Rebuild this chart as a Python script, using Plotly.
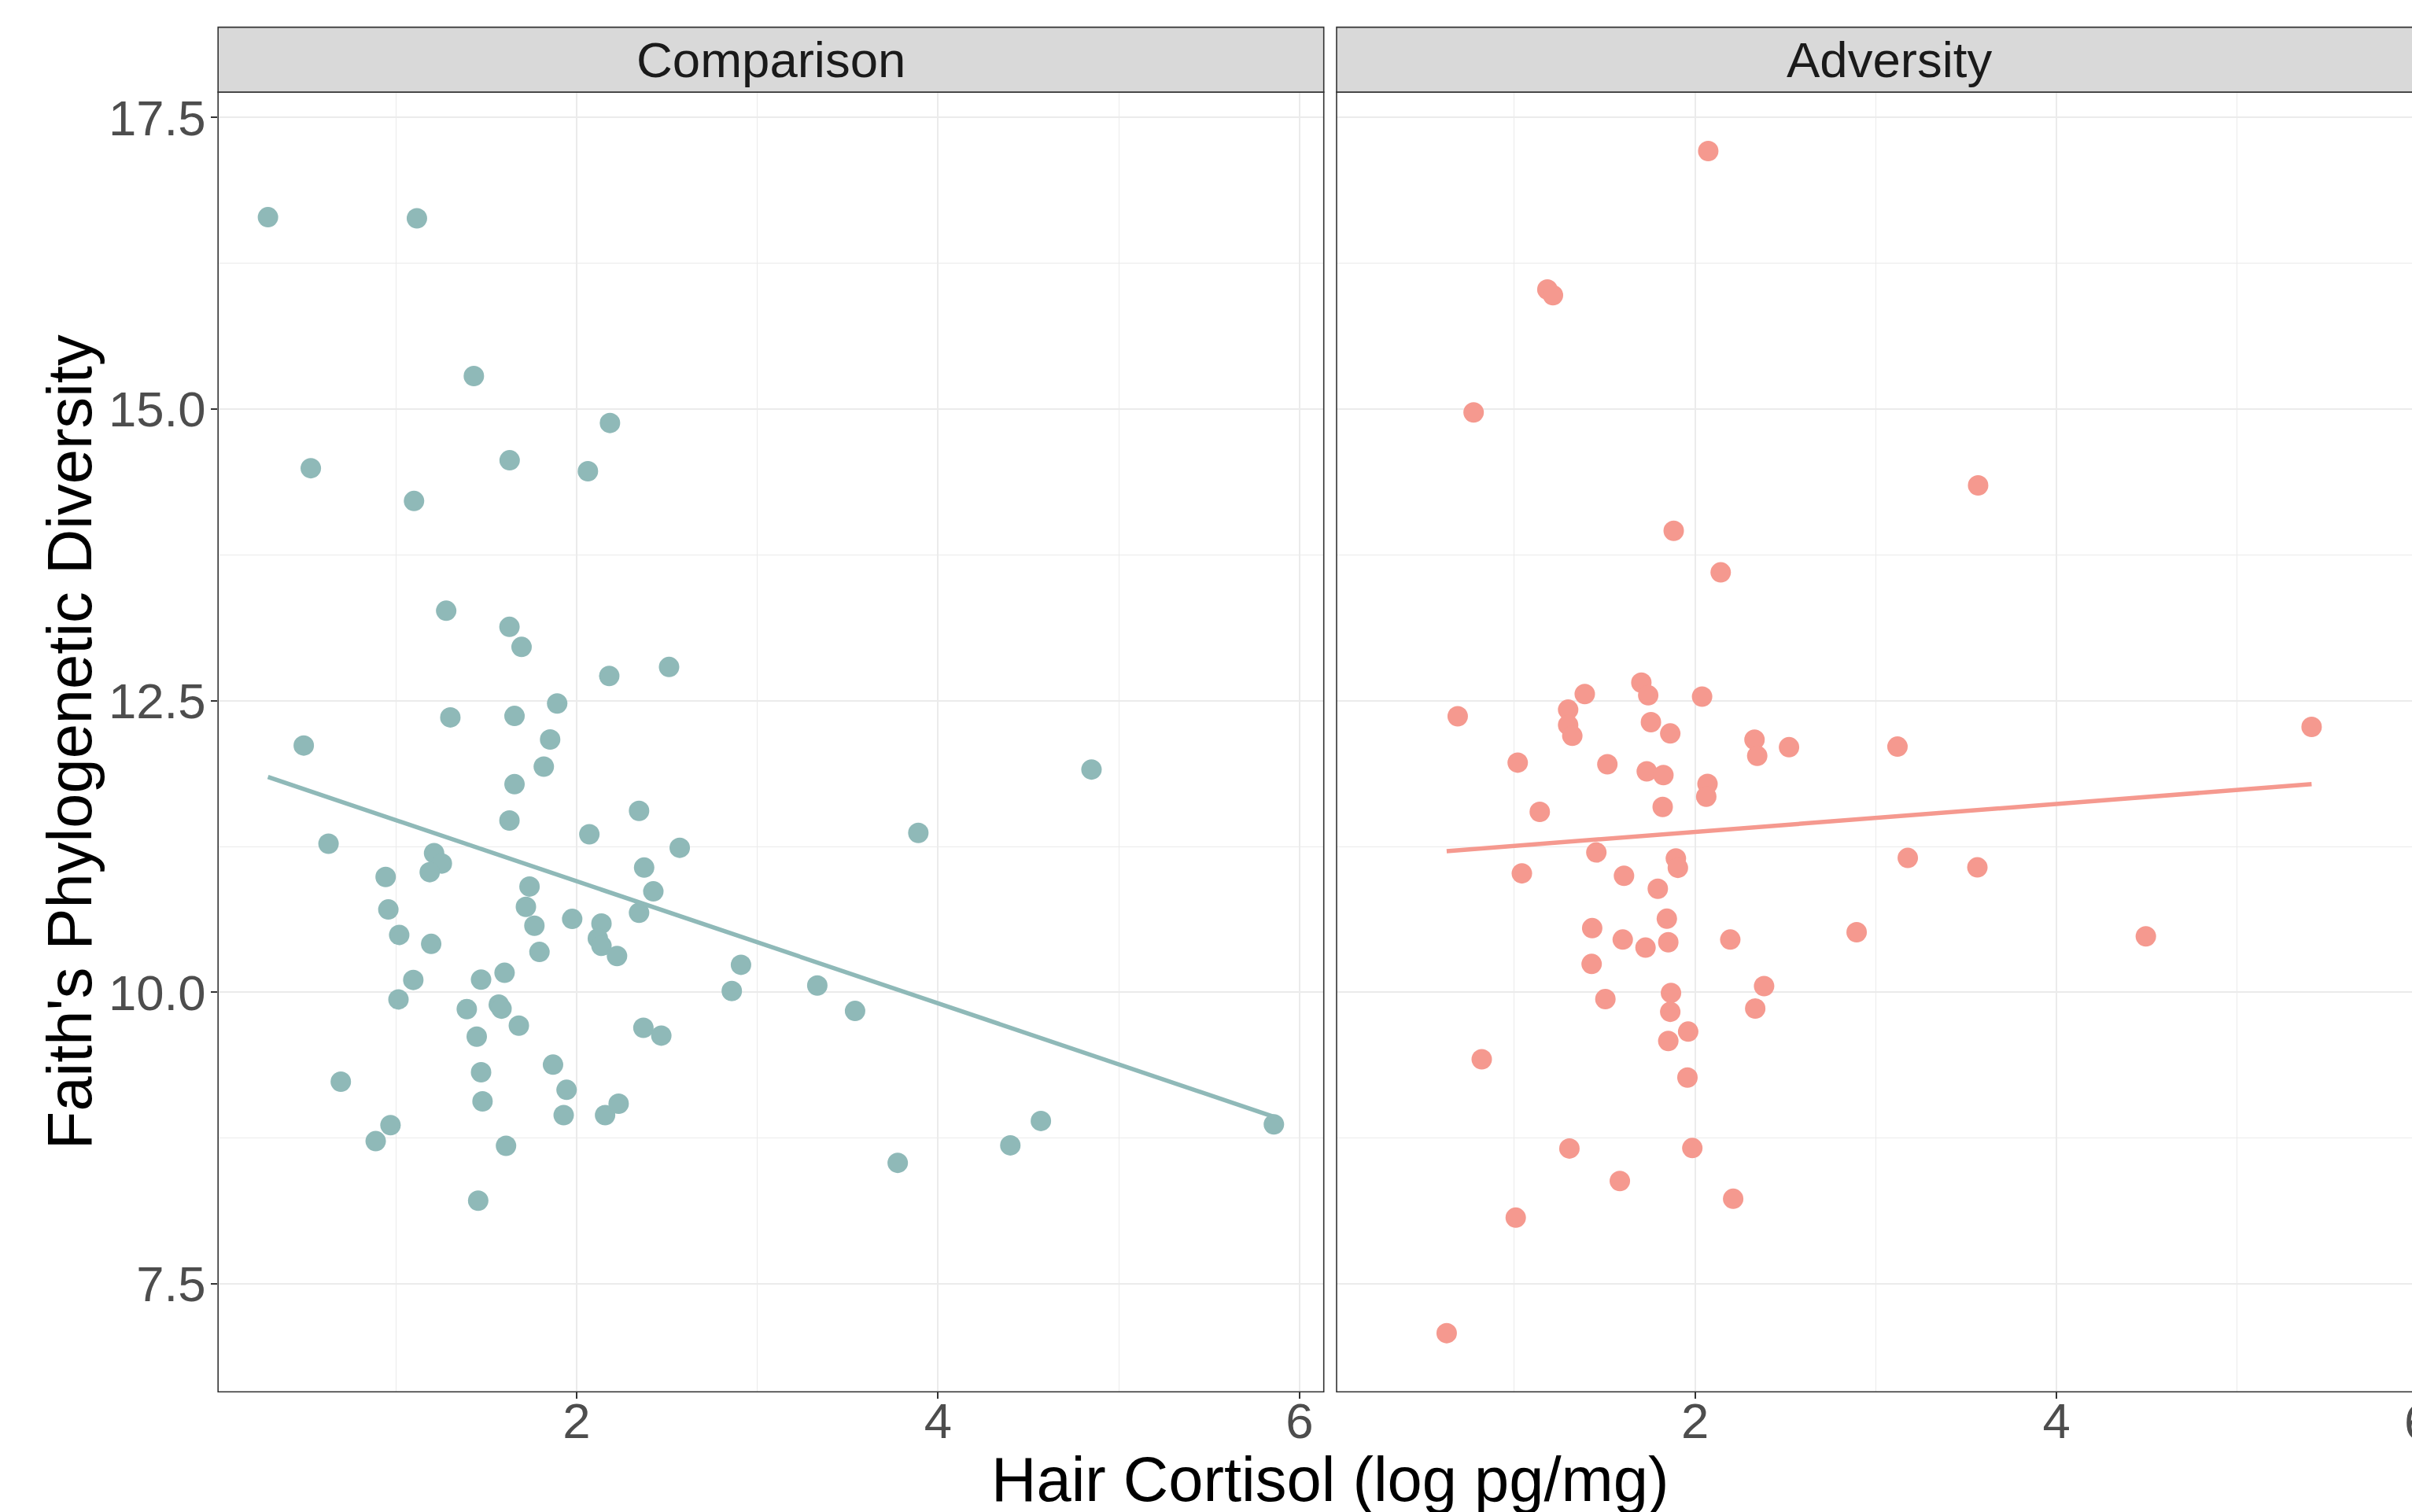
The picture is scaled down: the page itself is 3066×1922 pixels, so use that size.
import numpy as np
import plotly.graph_objects as go

# ---------------- data ----------------
panel_names = ["Comparison", "Adversity"]

comparison_x = [0.293, 1.117, 1.432, 2.185, 0.530, 1.630, 2.063, 1.101, 1.279, 1.629,
                1.696, 2.512, 2.181, 1.893, 1.302, 1.657, 0.491, 1.854, 1.819, 4.849,
                1.657, 2.346, 1.629, 3.891, 2.071, 0.628, 2.571, 1.212, 1.255, 1.188,
                2.374, 0.944, 1.740, 2.425, 0.959, 1.720, 2.346, 1.976, 2.138, 1.767,
                1.019, 2.118, 1.196, 2.138, 2.224, 1.795, 2.910, 1.097, 1.472, 1.602,
                3.332, 2.859, 1.015, 1.393, 1.570, 1.585, 3.541, 1.681, 2.370, 2.469,
                1.448, 1.870, 0.696, 1.472, 1.945, 1.480, 1.929, 2.158, 2.233, 0.971,
                0.889, 1.610, 4.569, 4.400, 3.777, 1.456, 5.858]
comparison_y = [16.645, 16.635, 15.283, 14.881, 14.493, 14.561, 14.467, 14.212, 13.271, 13.133,
                12.961, 12.789, 12.712, 12.476, 12.357, 12.369, 12.116, 12.167, 11.935, 11.910,
                11.784, 11.555, 11.473, 11.367, 11.355, 11.274, 11.239, 11.193, 11.104, 11.030,
                11.069, 10.989, 10.907, 10.865, 10.710, 10.733, 10.682, 10.629, 10.589, 10.571,
                10.492, 10.462, 10.415, 10.399, 10.311, 10.346, 10.236, 10.106, 10.109, 10.167,
                10.058, 10.011, 9.939, 9.856, 9.895, 9.860, 9.840, 9.714, 9.696, 9.629,
                9.620, 9.380, 9.234, 9.315, 9.164, 9.065, 8.947, 8.947, 9.045, 8.861,
                8.724, 8.684, 8.897, 8.688, 8.538, 8.214, 8.868]

adversity_x = [2.073, 1.183, 1.214, 0.775, 3.566, 1.882, 2.142,
               1.703, 1.741, 1.390, 2.039, 1.298, 0.687, 1.298, 1.321, 1.756, 1.863,
               5.411, 2.329, 2.344, 2.520, 3.120, 1.019, 1.515, 1.733, 1.825, 2.069,
               2.062, 1.141, 1.821, 1.454, 1.894, 1.905, 3.177, 3.562, 1.042, 1.607,
               1.794, 1.844, 1.431, 1.600, 1.726, 1.852, 2.195, 2.894, 4.494, 1.428,
               2.382, 1.867, 1.504, 2.333, 1.863, 1.962, 1.852,
               0.820, 1.958, 1.305, 1.985, 1.584, 2.211, 1.008, 0.626]
adversity_y = [17.212, 16.025, 15.976, 14.971, 14.346, 13.956, 13.600,
               12.655, 12.546, 12.557, 12.535, 12.423, 12.366, 12.291, 12.199, 12.316, 12.219,
               12.275, 12.166, 12.027, 12.101, 12.106, 11.969, 11.955, 11.894, 11.862, 11.786,
               11.677, 11.547, 11.589, 11.199, 11.147, 11.067, 11.152, 11.071, 11.020, 10.999,
               10.888, 10.631, 10.550, 10.452, 10.383, 10.429, 10.452, 10.515, 10.480, 10.243,
               10.053, 9.995, 9.942, 9.861, 9.833, 9.663, 9.583,
               9.426, 9.269, 8.661, 8.665, 8.382, 8.230, 8.068, 7.078]

x_major = [2, 4, 6]
x_minor = [1, 3, 5]
y_major = [7.5, 10.0, 12.5, 15.0, 17.5]
y_major_text = ["7.5", "10.0", "12.5", "15.0", "17.5"]
y_minor = [8.75, 11.25, 13.75, 16.25]

x_title = "Hair Cortisol (log pg/mg)"
y_title = "Faith's Phylogenetic Diversity"

# ---------------- styling ----------------
COL_CMP = "#8FB9B8"
COL_ADV = "#F5998F"
FONT = "Liberation Sans, Arial, Helvetica, sans-serif"
W, H = 3066, 1922

def fx(p):
    return p / W

def fy(p):
    return 1 - p / H

# panel geometry (pixels)
L1, R1 = 277.2, 1682.7
L2, R2 = 1699.0, 3104.5
TOP, BOT = 114.3, 1769.0
STRIP_TOP = 31.7

x_range = [0.017, 6.134]
x_range2 = [0.017, 0.017 + (W - L2) / (R2 - L2) * (x_range[1] - x_range[0])]
y_range = [6.575, 17.717]

fig = go.Figure()

def fit_line(xs, ys):
    xs = np.asarray(xs, dtype=float)
    ys = np.asarray(ys, dtype=float)
    b, a = np.polyfit(xs, ys, 1)
    lx = np.array([xs.min(), xs.max()])
    return lx, a + b * lx

for xs, ys, col, xa, ya in [(comparison_x, comparison_y, COL_CMP, "x", "y"),
                            (adversity_x, adversity_y, COL_ADV, "x2", "y2")]:
    fig.add_trace(go.Scatter(x=xs, y=ys, mode="markers", xaxis=xa, yaxis=ya,
                             marker=dict(size=26, color=col, line=dict(width=0)),
                             showlegend=False, cliponaxis=False))
    lx, ly = fit_line(xs, ys)
    fig.add_trace(go.Scatter(x=lx, y=ly, mode="lines", xaxis=xa, yaxis=ya,
                             line=dict(color=col, width=5.5), showlegend=False))

grid_major = dict(showgrid=True, gridcolor="#EBEBEB", gridwidth=2.2, zeroline=False)
minor_x = dict(tickvals=x_minor, showgrid=True, gridcolor="#EBEBEB", gridwidth=1.1, ticks="")
minor_y = dict(tickvals=y_minor, showgrid=True, gridcolor="#EBEBEB", gridwidth=1.1, ticks="")
tickfont = dict(family=FONT, size=63.5, color="#4D4D4D")

X_STANDOFF = -26
Y_STANDOFF = -6

fig.update_layout(
    width=W, height=H,
    margin=dict(l=0, r=0, t=0, b=0),
    paper_bgcolor="white", plot_bgcolor="white",
    showlegend=False,
    xaxis=dict(domain=[fx(L1), fx(R1)], range=x_range, tickmode="array", tickvals=x_major,
               ticks="outside", ticklen=8, tickwidth=1.6, tickcolor="#333333",
               tickfont=tickfont, minor=minor_x, showline=False, anchor="y",
               ticklabelstandoff=X_STANDOFF, **grid_major),
    xaxis2=dict(domain=[fx(L2), 1.0], range=x_range2, tickmode="array", tickvals=x_major,
                ticks="outside", ticklen=8, tickwidth=1.6, tickcolor="#333333",
                tickfont=tickfont, minor=minor_x, showline=False, anchor="y2",
                ticklabelstandoff=X_STANDOFF, **grid_major),
    yaxis=dict(domain=[fy(BOT), fy(TOP)], range=y_range, tickmode="array", tickvals=y_major,
               ticktext=y_major_text, ticks="outside", ticklen=8, tickwidth=1.6,
               tickcolor="#333333", tickfont=tickfont, minor=minor_y, showline=False,
               anchor="x", ticklabelstandoff=Y_STANDOFF, **grid_major),
    yaxis2=dict(domain=[fy(BOT), fy(TOP)], range=y_range, tickmode="array", tickvals=y_major,
                showticklabels=False, ticks="", minor=minor_y, showline=False,
                anchor="x2", matches="y", **grid_major),
)

shapes = []
for l, r in [(L1, R1), (L2, R2)]:
    # panel border
    shapes.append(dict(type="rect", xref="paper", yref="paper", x0=fx(l), x1=fx(r),
                       y0=fy(BOT), y1=fy(TOP), line=dict(color="#333333", width=1.6),
                       fillcolor="rgba(0,0,0,0)", layer="above"))
    # strip
    shapes.append(dict(type="rect", xref="paper", yref="paper", x0=fx(l), x1=fx(r),
                       y0=fy(TOP), y1=fy(STRIP_TOP), line=dict(color="#333333", width=1.6),
                       fillcolor="#D9D9D9", layer="above"))
fig.update_layout(shapes=shapes)

annotations = []
for name, l, r in [(panel_names[0], L1, R1), (panel_names[1], L2, R2)]:
    annotations.append(dict(text=name, xref="paper", yref="paper", x=fx((l + r) / 2),
                            y=fy((TOP + STRIP_TOP) / 2), xanchor="center", yanchor="middle",
                            showarrow=False, font=dict(family=FONT, size=63.5, color="#1A1A1A")))
# partially visible "6" tick label at right edge of the second panel
six_px = L2 + (6 - x_range2[0]) / (x_range[1] - x_range[0]) * (R2 - L2)
annotations.append(dict(text=str(x_major[-1]), xref="paper", yref="paper", x=fx(six_px),
                        y=fy(1807), xanchor="center", yanchor="middle", showarrow=False,
                        font=tickfont))
annotations.append(dict(text=x_title, xref="paper", yref="paper", x=fx((L1 + R2) / 2),
                        y=fy(1880), xanchor="center", yanchor="middle", showarrow=False,
                        font=dict(family=FONT, size=79.5, color="black")))
annotations.append(dict(text=y_title, xref="paper", yref="paper", x=fx(88),
                        y=fy((TOP + BOT) / 2), xanchor="center", yanchor="middle",
                        textangle=-90, showarrow=False,
                        font=dict(family=FONT, size=79.5, color="black")))
fig.update_layout(annotations=annotations)

fig.write_html("out.html", config={"displayModeBar": False},
               post_script="document.body.style.margin='0';document.body.style.overflow='hidden';")
